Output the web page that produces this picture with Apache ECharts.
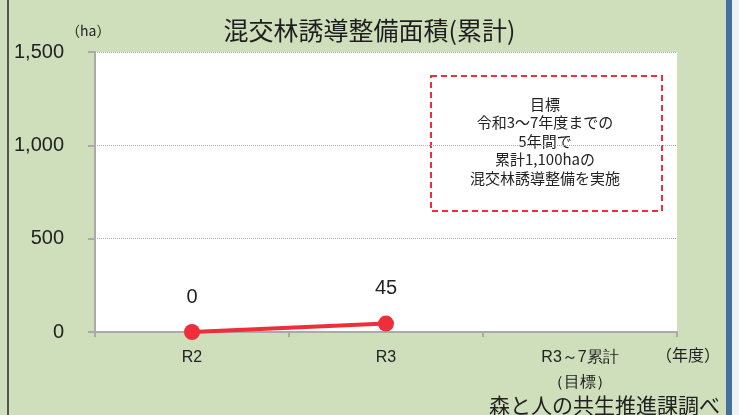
<!DOCTYPE html>
<html>
<head>
<meta charset="utf-8">
<script src="https://cdn.jsdelivr.net/npm/echarts@6/dist/echarts.min.js"></script>
<style>
html,body{margin:0;padding:0;background:#cfdebb;}
#c{width:739px;height:415px;}
</style>
</head>
<body>
<div id="c"></div>
<script>
var categories = ['R2', 'R3', 'R3～7累計\n（目標）'];
var values = [0, 45, null];
var yTicks = [0, 500, 1000, 1500];
var titleText = '混交林誘導整備面積(累計)';
var unitText = '（ha）';
var xUnitText = '（年度）';
var sourceText = '森と人の共生推進課調べ';
var goalText = '目標\n令和3～7年度までの\n5年間で\n累計1,100haの\n混交林誘導整備を実施';

var FONT = '"Noto Sans CJK JP", "Noto Sans", sans-serif';
var NUMFONT = '"Liberation Sans", Arial, sans-serif';
var chart = echarts.init(document.getElementById('c'), null, {renderer: 'canvas'});
chart.setOption({
  backgroundColor: '#cfdebb',
  animation: false,
  textStyle: {fontFamily: FONT},
  title: {
    text: titleText, left: 'center', top: 13,
    textStyle: {fontSize: 25, fontWeight: 'normal', color: '#1e1e1e', fontFamily: FONT}
  },
  grid: {left: 95, right: 62, top: 52, bottom: 83, show: true, backgroundColor: '#ffffff', borderWidth: 0},
  xAxis: {
    type: 'category', data: categories, boundaryGap: true,
    axisLine: {lineStyle: {color: '#aaaaaa', width: 2}},
    axisTick: {show: true, length: 5, lineStyle: {color: '#aaaaaa', width: 2}},
    axisLabel: {color: '#222', fontSize: 16, margin: 13, lineHeight: 25, fontFamily: NUMFONT}
  },
  yAxis: {
    type: 'value', min: yTicks[0], max: yTicks[yTicks.length - 1], interval: 500,
    axisLine: {show: true, lineStyle: {color: '#aaaaaa', width: 2}},
    axisTick: {show: true, length: 7, lineStyle: {color: '#aaaaaa', width: 2}},
    axisLabel: {color: '#222', fontSize: 20, margin: 31, fontFamily: NUMFONT,
      formatter: function (v) { return v.toLocaleString('en-US'); }},
    splitLine: {show: true, lineStyle: {color: '#aaaaaa', type: 'dotted', width: 1}}
  },
  series: [{
    type: 'line', data: values,
    lineStyle: {color: '#ee2e3a', width: 4},
    itemStyle: {color: '#ee2e3a'},
    symbol: 'circle', symbolSize: 16,
    label: {show: true, position: 'top', distance: 17, fontSize: 20, color: '#222', fontFamily: NUMFONT}
  }],
  graphic: [
    {type: 'rect', left: 7, top: 0, shape: {width: 2, height: 415}, style: {fill: '#555555'}},
    {type: 'rect', left: 726, top: 0, shape: {width: 6, height: 415}, style: {fill: '#44709e'}},
    {type: 'rect', left: 732, top: 0, shape: {width: 7, height: 415}, style: {fill: '#eef2f6'}},
    {type: 'text', left: 66, top: 24, style: {text: unitText, fontSize: 14, fill: '#222', fontFamily: FONT}},
    {type: 'text', left: 656, top: 347, style: {text: xUnitText, fontSize: 16, fill: '#222', fontFamily: FONT}},
    {type: 'text', left: 489, top: 395, style: {text: sourceText, fontSize: 21, fill: '#222', fontFamily: FONT}},
    {type: 'rect', left: 430, top: 75, shape: {width: 231, height: 135},
      style: {fill: '#ffffff', stroke: '#ee2e3a', lineWidth: 2, lineDash: [6, 4]}},
    {type: 'text', x: 545, y: 95,
      style: {text: goalText, fontSize: 15, lineHeight: 18.5, fill: '#222', align: 'center', verticalAlign: 'top',
        fontFamily: FONT}}
  ]
});
</script>
</body>
</html>
